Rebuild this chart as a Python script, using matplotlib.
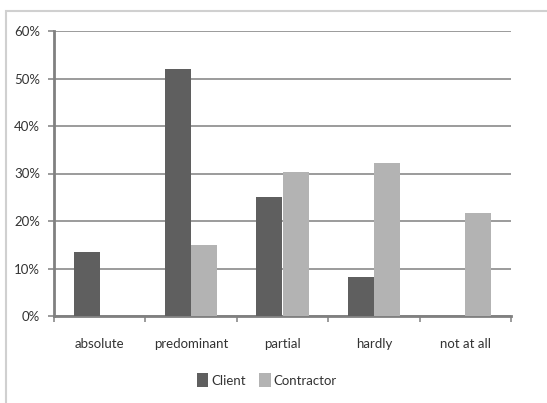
import matplotlib.pyplot as plt
import numpy as np
from matplotlib.patches import Rectangle

categories = ['absolute', 'predominant', 'partial', 'hardly', 'not at all']
client = [13.5, 52.0, 25.1, 8.3, 0.0]
contractor = [0.0, 14.9, 30.4, 32.3, 21.7]
yticks = [0, 10, 20, 30, 40, 50, 60]

plt.rcParams['font.family'] = ['Lato', 'DejaVu Sans']

fig = plt.figure(figsize=(5.47, 4.03), dpi=100)
fig.patches.append(Rectangle((6 / 547, -0.01), 1.0, 1 - 11 / 403 + 0.01,
                             transform=fig.transFigure, fill=False,
                             edgecolor='#d0d0d0', linewidth=1.5))
ax = fig.add_axes([54 / 547, 1 - 316 / 403, (511 - 54) / 547, (316 - 31) / 403])

x = np.arange(len(categories))
w = 0.285
ax.bar(x - w / 2, client, w, color='#5f5f5f', label='Client', zorder=3)
ax.bar(x + w / 2, contractor, w, color='#b3b3b3', label='Contractor', zorder=3)

ax.set_xlim(-0.5, len(categories) - 0.5)
ax.set_ylim(0, 60)
ax.set_yticks(yticks)
ax.set_yticklabels(['{}%'.format(v) for v in yticks], fontsize=9.5, color='#333333')
ax.yaxis.grid(True, color='#8a8a8a', linewidth=1.2, zorder=0)
ax.set_axisbelow(True)

ax.set_xticks(np.arange(-0.5, len(categories), 1.0))
ax.set_xticklabels([])
ax.set_xticks(x, minor=True)
ax.set_xticklabels(categories, minor=True, fontsize=9.5, color='#333333')
ax.tick_params(axis='x', which='minor', length=0, pad=16)
ax.tick_params(axis='x', which='major', length=4, color='#8a8a8a', width=1.2)
ax.tick_params(axis='y', length=4, color='#8a8a8a', width=1.2, pad=6)

for s in ['top', 'right']:
    ax.spines[s].set_visible(False)
for s in ['left', 'bottom']:
    ax.spines[s].set_color('#808080')
    ax.spines[s].set_linewidth(2)

ax.legend(loc='center', bbox_to_anchor=(0.465, -0.225), ncol=2, frameon=False,
          fontsize=9.5, handlelength=0.9, handleheight=1.3, handletextpad=0.2,
          columnspacing=1.0, labelcolor='#333333')

fig.savefig('out.png', dpi=100)
